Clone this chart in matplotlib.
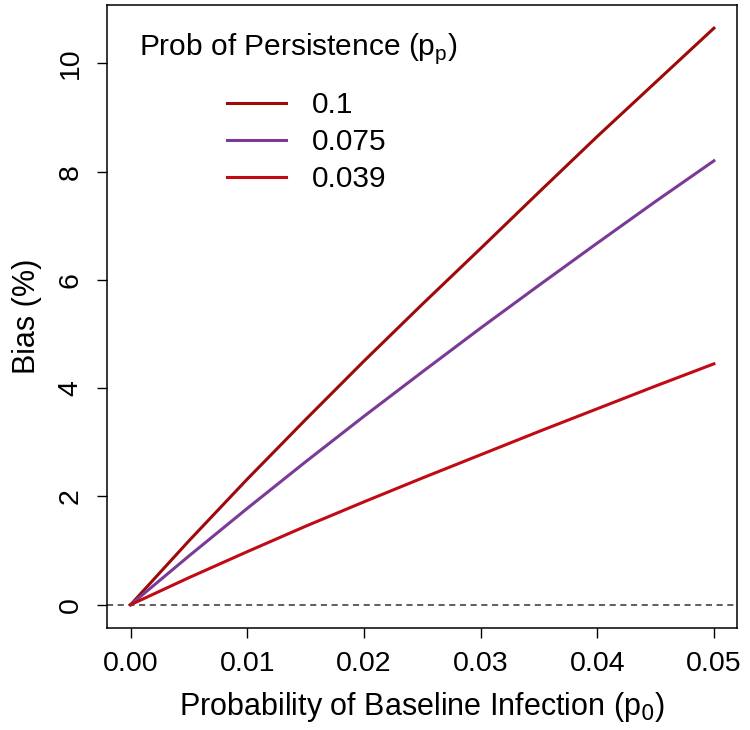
import numpy as np
import matplotlib
matplotlib.use("Agg")
import matplotlib.pyplot as plt

plt.rcParams['font.family'] = ['Liberation Sans', 'DejaVu Sans']

# baseline infection probability (x) and bias (%) for each persistence probability
p0 = [0.0, 0.005, 0.01, 0.015, 0.02, 0.025, 0.03, 0.035, 0.04, 0.045, 0.05]
bias_p100 = [0.0, 1.18, 2.32, 3.42, 4.50, 5.55, 6.58, 7.62, 8.65, 9.65, 10.65]
bias_p075 = [0.0, 0.90, 1.78, 2.64, 3.48, 4.30, 5.11, 5.90, 6.68, 7.45, 8.20]
bias_p039 = [0.0, 0.50, 0.98, 1.45, 1.90, 2.34, 2.77, 3.20, 3.62, 4.04, 4.45]
labels = ["0.1", "0.075", "0.039"]
colors = ["#9e0a0a", "#7a3b96", "#c00a14"]

fig = plt.figure(figsize=(7.5, 7.3), dpi=100)
ax = fig.add_axes([0.143, 0.140, 0.840, 0.853])

ax.axhline(0, color="#333333", lw=1.1, ls=(0, (4, 3)))
for ys, lab, col in zip([bias_p100, bias_p075, bias_p039], labels, colors):
    ax.plot(p0, ys, color=col, lw=2.2, label=lab)

ax.set_xlim(-0.002, 0.052)
ax.set_ylim(-0.426, 11.076)
ax.set_xticks([0.0, 0.01, 0.02, 0.03, 0.04, 0.05])
ax.set_xticklabels(["0.00", "0.01", "0.02", "0.03", "0.04", "0.05"])
ax.set_yticks([0, 2, 4, 6, 8, 10])
ax.set_yticklabels(["0", "2", "4", "6", "8", "10"], rotation=90, va="center")
ax.tick_params(labelsize=20.5, length=7, width=1)
ax.tick_params(axis="x", pad=10)
ax.tick_params(axis="y", pad=10)

for s in ax.spines.values():
    s.set_linewidth(1.1)

ax.set_xlabel("Probability of Baseline Infection (p$_0$)", fontsize=22, labelpad=9)
ax.set_ylabel("Bias (%)", fontsize=22, labelpad=11)

# legend title + entries
ax.text(0.051, 0.931, "Prob of Persistence (p$_\\mathregular{p}$)", transform=ax.transAxes,
        fontsize=21.5, va="center", ha="left")
ax.legend(loc="upper left", bbox_to_anchor=(0.19, 0.862), frameon=False,
          fontsize=21.5, handlelength=1.97, handletextpad=0.86, labelspacing=0.30,
          borderaxespad=0, borderpad=0)

fig.savefig("out.png", dpi=100)
